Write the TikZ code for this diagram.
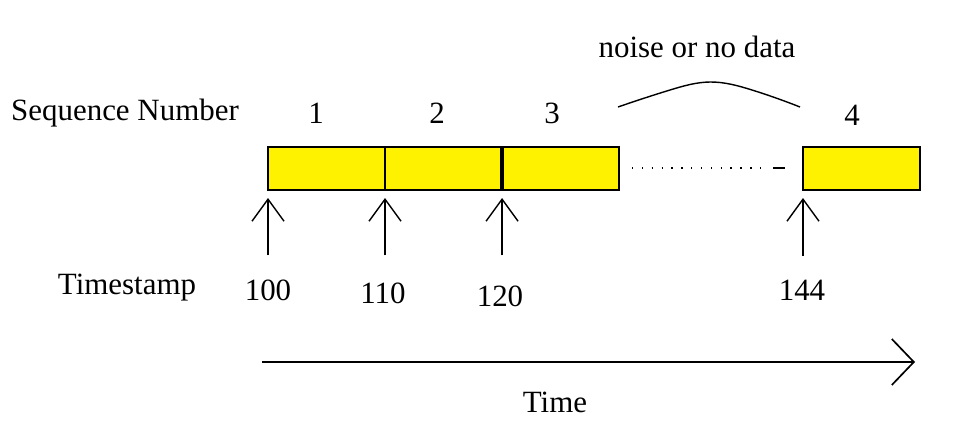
\documentclass[tikz,border=0pt]{standalone}
\usepackage{fontspec}
\setmainfont{Liberation Serif}
\usetikzlibrary{
  positioning,
  calc,
  hobby,
  arrows.meta
}
\tikzset{
  use Hobby shortcut,
  seqbox/.style={
    draw,
    line width=1.4pt,
    fill=yellow,
    minimum width=2.925cm,
    minimum height=1.075cm,
    inner sep=0pt,
    outer sep=0pt
  },
  lbl/.style={
    inner sep=0pt,
    font=\fontsize{22}{26}\selectfont
  },
  tsarrow/.style={
    line width=1pt,
    -{Straight Barb[length=0.55cm, width=0.8cm]}
  },
  timearrow/.style={
    line width=1.2pt,
    -{Straight Barb[length=0.55cm, width=1.15cm]}
  }
}

\begin{document}
\begin{tikzpicture}[x=0.025cm, y=-0.025cm]
  \useasboundingbox (0,0) rectangle (968,422);
  % packets
  \node[seqbox, anchor=north west] (seq1) at (268,147) {};
  \node[seqbox, right=0pt of seq1] (seq2) {};
  \node[seqbox, right=0pt of seq2] (seq3) {};
  \node[seqbox, anchor=north west] (seq4) at (803,147) {};
  \draw[line width=2.5pt] (seq3.north west) -- (seq3.south west);
  % gap
  \coordinate (gapstart) at (632,168);
  \coordinate (gapend) at (766,168);
  \coordinate (dashstart) at (773,168);
  \coordinate (dashend) at (785,168);
  \draw[line width=1pt, dash pattern=on 1pt off 6pt] (gapstart) -- (gapend);
  \draw[line width=1pt] (dashstart) -- (dashend);
  \coordinate (arcleft) at (618,107);
  \coordinate (arcrise) at (670,90);
  \coordinate (arctop) at (710,82);
  \coordinate (arcfall) at (752,90);
  \coordinate (arcright) at (800,107);
  \draw[line width=1pt] (arcleft) .. (arcrise) .. (arctop) .. (arcfall) .. (arcright);
  \node[lbl] (noise) at (697,47) {noise or no data};
  % sequence numbers
  \node[lbl] (seqlabel) at (125,113) {Sequence Number};
  \node[lbl] (num1) at (316,113) {1};
  \node[lbl] (num2) at (437,113) {2};
  \node[lbl] (num3) at (552,113) {3};
  \node[lbl] (num4) at (852,115) {4};
  % timestamps
  \node[lbl] (tslabel) at (127,288) {Timestamp};
  \node[lbl] (ts100) at (268,290) {100};
  \node[lbl] (ts110) at (383,293) {110};
  \node[lbl] (ts120) at (500,296) {120};
  \node[lbl] (ts144) at (802,290) {144};
  \draw[tsarrow] ($(seq1.south west |- ts100.north)+(0,-24)$) -- ($(seq1.south west)+(0,8)$);
  \draw[tsarrow] ($(seq2.south west |- ts110.north)+(0,-27)$) -- ($(seq2.south west)+(0,8)$);
  \draw[tsarrow] ($(seq3.south west |- ts120.north)+(0,-30)$) -- ($(seq3.south west)+(0,8)$);
  \draw[tsarrow] ($(seq4.south west |- ts144.north)+(0,-24)$) -- ($(seq4.south west)+(0,8)$);
  % time axis
  \coordinate (timestart) at (262,362);
  \coordinate (timeend) at (915,362);
  \draw[timearrow] (timestart) -- (timeend);
  \node[lbl] (timelabel) at (555,402) {Time};
\end{tikzpicture}
\end{document}
